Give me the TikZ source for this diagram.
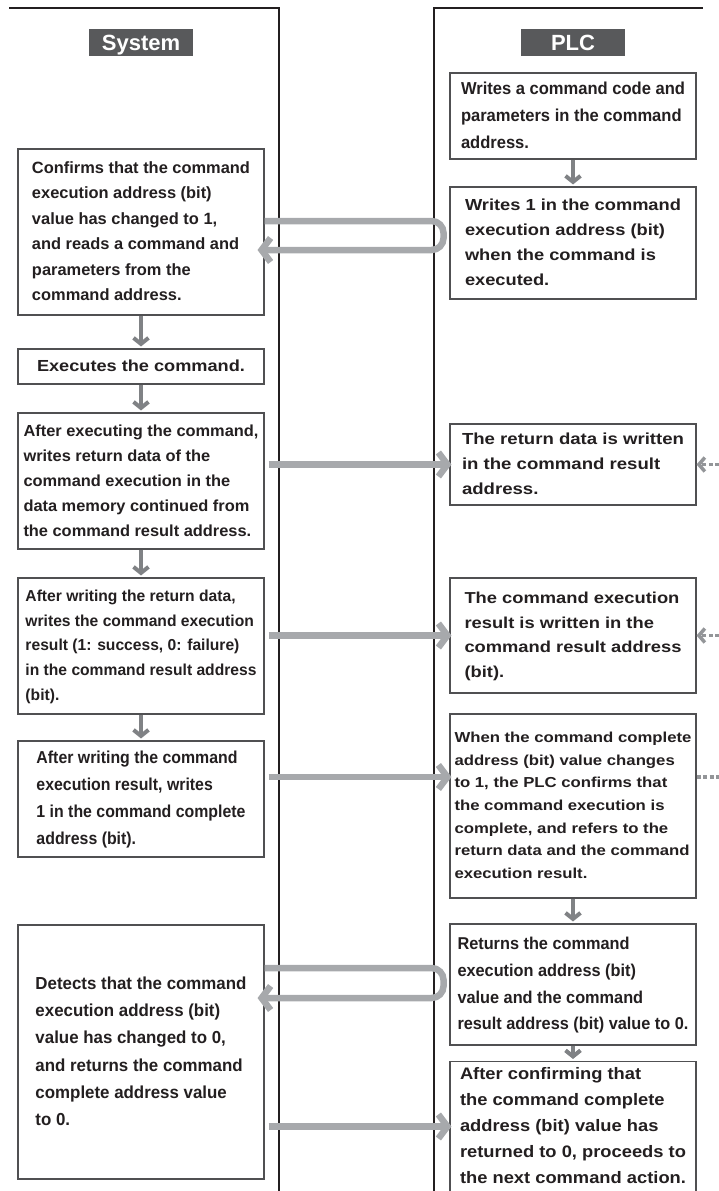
\documentclass[tikz,border=0pt]{standalone}
\usepackage{fontspec}
\setmainfont{Liberation Sans}
\usepackage{graphicx}
\usetikzlibrary{arrows.meta}

\definecolor{ink}{HTML}{231F20}
\definecolor{frame}{HTML}{505052}
\definecolor{headfill}{HTML}{58595B}
\definecolor{flowgray}{HTML}{A7A9AC}
\definecolor{stepgray}{HTML}{808285}
\definecolor{linkgray}{HTML}{939598}

% block of left-aligned lines, stretched to a given width and total height
\newcommand{\msg}[3]{\resizebox*{#1pt}{#2pt}{\bfseries\fontsize{16}{25}\selectfont\begin{tabular}{@{}l@{}}#3\end{tabular}}}

\tikzset{
  lane/.style={draw=ink, line width=2.4pt},
  lanehead/.style={fill=headfill, text=white, inner sep=0pt,
    minimum width=104pt, minimum height=27pt,
    text height=15.7pt, text depth=0pt,
    font=\bfseries\fontsize{22}{26}\selectfont},
  stepbox/.style={draw=frame, line width=1.1pt, fill=white, text=ink,
    minimum width=246pt, inner sep=0pt},
  down/.style={draw=stepgray, line width=4pt, shorten >=2pt,
    -{Straight Barb[length=6pt, width=15pt]}},
  hflow/.style={draw=flowgray, line width=6.5pt,
    -{Straight Barb[length=9pt, width=24pt]}},
  dlink/.style={draw=linkgray, line width=3.5pt, dash pattern=on 4pt off 2.5pt},
}

\begin{document}
\begin{tikzpicture}[x=1pt, y=-1pt]
\useasboundingbox (0,0) rectangle (719,1191);

% swim lane frames
\draw[lane] (9,8) -- (279,8) -- (279,1191);
\draw[lane] (434,1191) -- (434,8) -- (703,8);

% lane titles
\node[lanehead] (sys) at (141,42.5) {System};
\node[lanehead] (plc) at (573,42.5) {PLC};

% System steps
\node[stepbox, minimum height=166pt] (s1) at (141,232) {\msg{218}{153}{Confirms that the command\\ execution address (bit)\\ value has changed to 1,\\ and reads a command and\\ parameters from the\\ command address.}};
\node[stepbox, minimum height=35pt] (s2) at (141,366.5) {\msg{208}{25}{Executes the command.}};
\node[stepbox, minimum height=136pt] (s3) at (141,481) {\msg{235}{125}{After executing the command,\\ writes return data of the\\ command execution in the\\ data memory continued from\\ the command result address.}};
\node[stepbox, minimum height=136pt] (s4) at (141,646) {\msg{231}{124}{After writing the return data,\\ writes the command execution\\ result (1: success, 0: failure)\\ in the command result address\\ (bit).}};
\node[stepbox, minimum height=116pt] (s5) at (141,799) {\msg{209}{108}{After writing the command\\ execution result, writes\\ 1 in the command complete\\ address (bit).}};
\node[stepbox, minimum height=254pt] (s6) at (141,1052) {\msg{211}{163}{Detects that the command\\ execution address (bit)\\ value has changed to 0,\\ and returns the command\\ complete address value\\ to 0.}};

% PLC steps
\node[stepbox, minimum height=86pt] (p1) at (573,116) {\msg{224}{81}{Writes a command code and\\ parameters in the command\\ address.}};
\node[stepbox, minimum height=112pt] (p2) at (573,243) {\msg{216}{100}{Writes 1 in the command\\ execution address (bit)\\ when the command is\\ executed.}};
\node[stepbox, minimum height=81pt] (p3) at (573,464.5) {\msg{222}{75}{The return data is written\\ in the command result\\ address.}};
\node[stepbox, minimum height=115pt] (p4) at (573,635.5) {\msg{217}{99}{The command execution\\ result is written in the\\ command result address\\ (bit).}};
\node[stepbox, minimum height=184pt] (p5) at (573,806) {\msg{237}{158}{When the command complete\\ address (bit) value changes\\ to 1, the PLC confirms that\\ the command execution is\\ complete, and refers to the\\ return data and the command\\ execution result.}};
\node[stepbox, minimum height=121pt] (p6) at (573,984.5) {\msg{231}{107}{Returns the command\\ execution address (bit)\\ value and the command\\ result address (bit) value to 0.}};
\node[stepbox, minimum height=125pt] (p7) at (573,1126.5) {\msg{226}{130}{After confirming that\\ the command complete\\ address (bit) value has\\ returned to 0, proceeds to\\ the next command action.}};

% sequence inside each lane
\draw[down] (s1.south) -- (s2.north);
\draw[down] (s2.south) -- (s3.north);
\draw[down] (s3.south) -- (s4.north);
\draw[down] (s4.south) -- (s5.north);
\draw[down] (p1.south) -- (p2.north);
\draw[down] (p5.south) -- (p6.north);
\draw[down] (p6.south) -- (p7.north);

% PLC to System signals (loops back across the lane border)
\draw[hflow, rounded corners=12pt] ([yshift=11pt]s1.east) -- ++(179,0) -- ++(0,29) -- ([yshift=-18pt,xshift=-7pt]s1.east);
\draw[hflow, rounded corners=12pt] ([yshift=84pt]s6.east) -- ++(179,0) -- ++(0,30) -- ([yshift=54pt,xshift=-7pt]s6.east);

% System to PLC signals
\path ([yshift=29pt]p5.west) coordinate (m5);
\draw[hflow, shorten <=4pt] (s3.east |- p3.west) -- ([xshift=2pt]p3.west);
\draw[hflow, shorten <=4pt] (s4.east |- p4.west) -- ([xshift=2pt]p4.west);
\draw[hflow, shorten <=4pt] (s5.east |- m5) -- ([xshift=2pt]m5);
\draw[hflow, shorten <=4pt] (s6.east |- p7.west) -- ([xshift=2pt]p7.west);

% links to the program outside the frame
\coordinate (rim) at (719,0);
\draw[dlink, -{Straight Barb[length=6pt, width=14pt]}] (p3.east -| rim) -- (p3.east);
\draw[dlink, -{Straight Barb[length=6pt, width=14pt]}] (p4.east -| rim) -- (p4.east);
\draw[dlink] (p5.east |- m5) -- (m5 -| rim);
\end{tikzpicture}
\end{document}
